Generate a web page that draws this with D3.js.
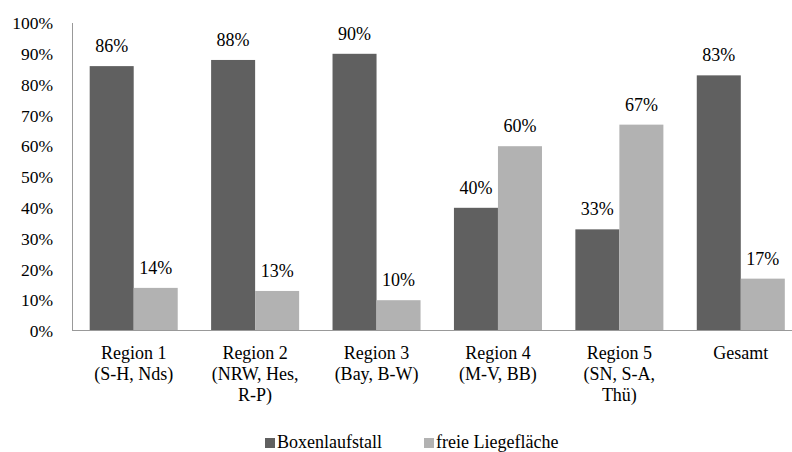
<!DOCTYPE html>
<html>
<head>
<meta charset="utf-8">
<script src="https://cdn.jsdelivr.net/npm/d3@7"></script>
<style>
  body { margin: 0; background: #fff; }
  svg { display: block; }
</style>
</head>
<body>
<svg id="chart" width="792" height="452" font-family="Tinos, 'Liberation Serif', serif"></svg>
<script>
const categories = [
  ["Region 1", "(S-H, Nds)"],
  ["Region 2", "(NRW, Hes,", "R-P)"],
  ["Region 3", "(Bay, B-W)"],
  ["Region 4", "(M-V, BB)"],
  ["Region 5", "(SN, S-A,", "Thü)"],
  ["Gesamt"]
];
const seriesNames = ["Boxenlaufstall", "freie Liegefläche"];
const boxenlaufstall = [86, 88, 90, 40, 33, 83];
const freieLiegeflaeche = [14, 13, 10, 60, 67, 17];
const yTicks = [0, 10, 20, 30, 40, 50, 60, 70, 80, 90, 100];
const colors = ["#606060", "#b2b2b2"];

(function () {
const FONT = "Tinos, 'Liberation Serif', serif";
const svg = d3.select("#chart");
const mLeft = 73, mRight = 801.5, mTop = 23, mBottom = 331;

const x0 = d3.scaleBand().domain(d3.range(categories.length)).range([mLeft, mRight])
  .paddingInner(0.275).paddingOuter(0.1375);
const x1 = d3.scaleBand().domain([0, 1]).range([0, x0.bandwidth()]);
const y = d3.scaleLinear().domain([0, 100]).range([mBottom, mTop]);

const series = [boxenlaufstall, freieLiegeflaeche];

// y axis
const yAxis = d3.axisLeft(y).tickValues(yTicks).tickSize(0).tickPadding(0)
  .tickFormat(d => d + "%");
const gy = svg.append("g").attr("transform", `translate(${mLeft},0)`).call(yAxis);
gy.attr("font-family", FONT).attr("font-size", null);
gy.select(".domain").remove();
gy.selectAll("text").attr("x", -20).attr("fill", "#000")
  .attr("font-size", 17.5).attr("font-family", FONT);

svg.append("line").attr("x1", mLeft - 0.5).attr("x2", mLeft - 0.5).attr("y1", mTop).attr("y2", mBottom)
  .attr("stroke", "#999").attr("stroke-width", 1);

// bars
series.forEach((vals, si) => {
  const g = svg.append("g");
  g.selectAll("rect").data(vals).join("rect")
    .attr("x", (d, i) => x0(i) + x1(si))
    .attr("y", d => y(d))
    .attr("width", x1.bandwidth())
    .attr("height", d => y(0) - y(d))
    .attr("fill", colors[si]);
  g.selectAll("text").data(vals).join("text")
    .attr("x", (d, i) => x0(i) + x1(si) + x1.bandwidth() / 2)
    .attr("y", d => y(d) - 14)
    .attr("text-anchor", "middle")
    .attr("font-family", FONT)
    .attr("font-size", 18)
    .text(d => d + "%");
});

// x axis
svg.append("line").attr("x1", mLeft - 1).attr("x2", 792).attr("y1", mBottom - 0.5).attr("y2", mBottom - 0.5)
  .attr("stroke", "#999").attr("stroke-width", 1);

// category labels
categories.forEach((lines, i) => {
  const cx = x0(i) + x0.bandwidth() / 2;
  lines.forEach((ln, k) => {
    svg.append("text")
      .attr("text-anchor", "middle")
      .attr("font-family", FONT)
      .attr("font-size", 18)
      .attr("x", cx).attr("y", 359 + k * 21).text(ln);
  });
});

// legend
const legendX = [265, 424];
seriesNames.forEach((name, si) => {
  svg.append("rect").attr("x", legendX[si]).attr("y", 438).attr("width", 10).attr("height", 10)
    .attr("fill", colors[si]);
  svg.append("text").attr("x", legendX[si] + 12).attr("y", 448)
    .attr("font-family", FONT)
    .attr("font-size", 18).text(name);
});
})();
</script>
</body>
</html>
